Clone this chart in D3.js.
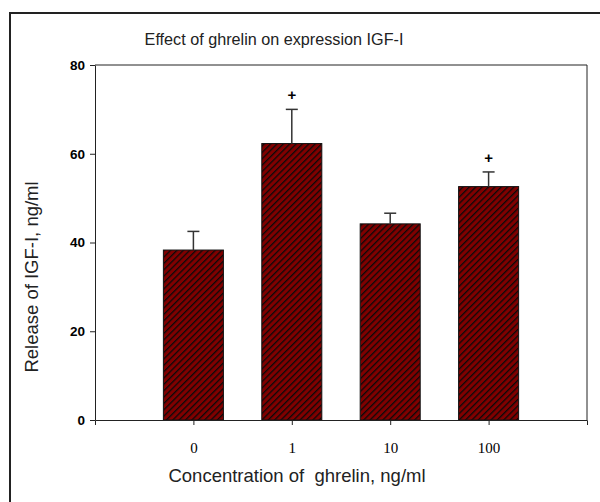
<!DOCTYPE html>
<html>
<head>
<meta charset="utf-8">
<script src="https://cdn.jsdelivr.net/npm/d3@7"></script>
<style>
  body { margin: 0; background: #fff; }
  svg { display: block; }
</style>
</head>
<body>
<div id="chart"></div>
<script>
// Chart values
const categories = ['0', '1', '10', '100'];
const releaseMeans = [38.3, 62.3, 44.2, 52.6];
const releaseErrors = [4.2, 7.7, 2.4, 3.3];
const significant = [false, true, false, true];
const yTicks = [0, 20, 40, 60, 80];

const width = 600;
const height = 502;
const margin = { top: 65, right: 13, bottom: 82, left: 95 };

const svg = d3.select('#chart')
    .append('svg')
    .attr('width', width)
    .attr('height', height);

// Hatch pattern for bars: dark red with black diagonal lines
const defs = svg.append('defs');
const pattern = defs.append('pattern')
    .attr('id', 'hatch')
    .attr('patternUnits', 'userSpaceOnUse')
    .attr('width', 4.5)
    .attr('height', 4.5)
    .attr('patternTransform', 'rotate(45)');
pattern.append('rect')
    .attr('width', 4.5)
    .attr('height', 4.5)
    .attr('fill', '#800000');
pattern.append('line')
    .attr('x1', 0).attr('y1', 0)
    .attr('x2', 0).attr('y2', 4.5)
    .attr('stroke', '#0a0a0a')
    .attr('stroke-width', 2.6);

// Outer frame (runs off the right and bottom edges)
svg.append('rect')
    .attr('x', 10)
    .attr('y', 13)
    .attr('width', width)
    .attr('height', height)
    .attr('fill', 'none')
    .attr('stroke', '#222')
    .attr('stroke-width', 2);

const x = d3.scalePoint()
    .domain(categories)
    .range([margin.left, width - margin.right])
    .padding(1);

const y = d3.scaleLinear()
    .domain([0, 80])
    .range([height - margin.bottom, margin.top]);

const barWidth = x.step() * 0.61;

// Plot box: top and right edges
svg.append('path')
    .attr('d', `M${margin.left},${margin.top}H${width - margin.right}V${height - margin.bottom}`)
    .attr('fill', 'none')
    .attr('stroke', '#222')
    .attr('stroke-width', 1);

// Bars
svg.selectAll('.bar')
    .data(categories)
    .enter()
    .append('rect')
    .attr('class', 'bar')
    .attr('x', d => x(d) - barWidth / 2)
    .attr('y', (d, i) => y(releaseMeans[i]))
    .attr('width', barWidth)
    .attr('height', (d, i) => y(0) - y(releaseMeans[i]))
    .attr('fill', 'url(#hatch)')
    .attr('stroke', '#111')
    .attr('stroke-width', 1);

// Error bars (upper only)
const err = svg.selectAll('.err')
    .data(categories)
    .enter()
    .append('g')
    .attr('class', 'err')
    .attr('stroke', '#333')
    .attr('stroke-width', 1.5);

err.append('line')
    .attr('x1', d => x(d)).attr('x2', d => x(d))
    .attr('y1', (d, i) => y(releaseMeans[i]))
    .attr('y2', (d, i) => y(releaseMeans[i] + releaseErrors[i]));

err.append('line')
    .attr('x1', d => x(d) - 6).attr('x2', d => x(d) + 6)
    .attr('y1', (d, i) => y(releaseMeans[i] + releaseErrors[i]))
    .attr('y2', (d, i) => y(releaseMeans[i] + releaseErrors[i]));

// Significance markers
svg.selectAll('.sig')
    .data(categories.filter((d, i) => significant[i]))
    .enter()
    .append('text')
    .attr('class', 'sig')
    .attr('x', d => x(d))
    .attr('y', d => {
        const i = categories.indexOf(d);
        return y(releaseMeans[i] + releaseErrors[i]) - 9;
    })
    .attr('text-anchor', 'middle')
    .style('font-family', '"Liberation Sans", Arial, sans-serif')
    .style('font-weight', 'bold')
    .style('font-size', '15px')
    .text('+');

// Y axis
const yAxis = svg.append('g')
    .attr('transform', `translate(${margin.left},0)`)
    .call(d3.axisLeft(y).tickValues(yTicks).tickSize(5).tickSizeOuter(0));
yAxis.selectAll('text')
    .attr('x', -10)
    .style('font-family', '"Liberation Sans", Arial, sans-serif')
    .style('font-weight', 'bold')
    .style('font-size', '13.5px')
    .attr('fill', '#000');
yAxis.selectAll('line, path').attr('stroke', '#222');

// X axis (outer ticks at both ends)
const xAxis = svg.append('g')
    .attr('transform', `translate(0,${y(0)})`)
    .call(d3.axisBottom(x).tickSize(5).tickSizeOuter(5).tickPadding(17));
xAxis.selectAll('text')
    .style('font-family', '"Liberation Serif", "Times New Roman", serif')
    .style('font-size', '15px')
    .attr('fill', '#000');
xAxis.selectAll('line, path').attr('stroke', '#222');

// Title
svg.append('text')
    .attr('x', 274)
    .attr('y', 45)
    .attr('text-anchor', 'middle')
    .style('font-family', '"Liberation Sans", Arial, sans-serif')
    .style('font-size', '16.2px')
    .attr('fill', '#222')
    .text('Effect of ghrelin on expression IGF-I');

// Axis titles
svg.append('text')
    .attr('x', 297)
    .attr('y', 482)
    .attr('text-anchor', 'middle')
    .style('font-family', '"Liberation Sans", Arial, sans-serif')
    .style('font-size', '18.5px')
    .attr('fill', '#222')
    .style('white-space', 'pre')
    .text('Concentration of  ghrelin, ng/ml');

svg.append('text')
    .attr('transform', 'translate(38,277) rotate(-90)')
    .attr('text-anchor', 'middle')
    .style('font-family', '"Liberation Sans", Arial, sans-serif')
    .style('font-size', '18.5px')
    .attr('fill', '#222')
    .text('Release of IGF-I, ng/ml');
</script>
</body>
</html>
